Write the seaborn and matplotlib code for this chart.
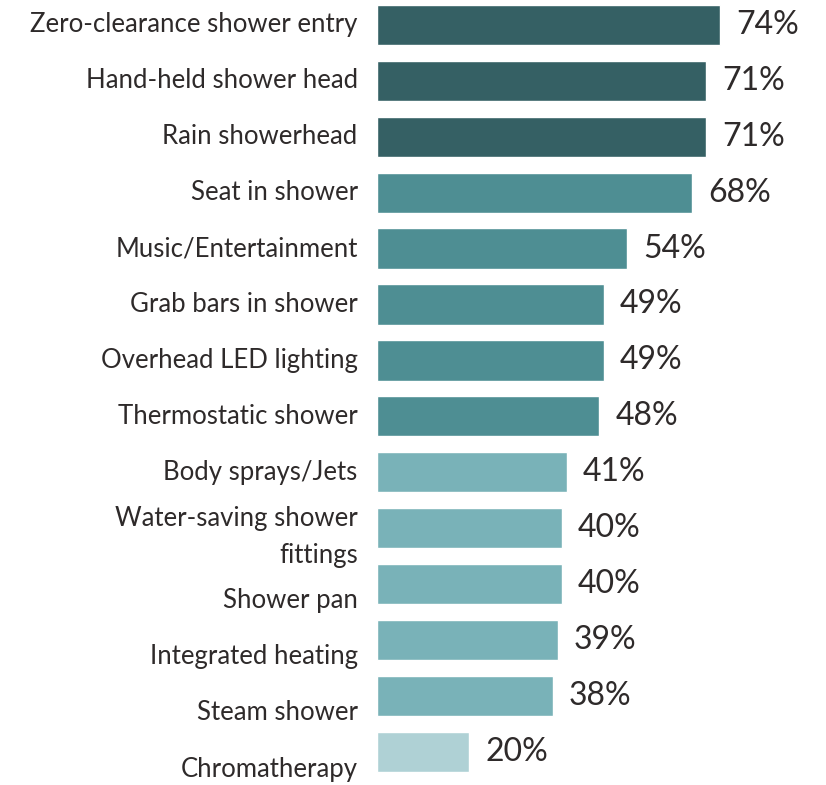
import matplotlib
matplotlib.use("Agg")
import matplotlib.pyplot as plt
import matplotlib.transforms as mtransforms
import seaborn as sns
import pandas as pd

features = ["Zero-clearance shower entry", "Hand-held shower head", "Rain showerhead",
            "Seat in shower", "Music/Entertainment", "Grab bars in shower",
            "Overhead LED lighting", "Thermostatic shower", "Body sprays/Jets",
            "Water-saving shower\nfittings", "Shower pan", "Integrated heating",
            "Steam shower", "Chromatherapy"]
pct = [74, 71, 71, 68, 54, 49, 49, 48, 41, 40, 40, 39, 38, 20]
tier = ["top", "top", "top", "mid", "mid", "mid", "mid", "mid",
        "low", "low", "low", "low", "low", "least"]

tier_colors = {"top": "#356064", "mid": "#4e8e93", "low": "#79b2b8", "least": "#afd1d5"}
# the original labels drift down after the wrapped one
label_shift_px = [0, 0, 0, 0, 0, 0, 0, 0, 0, 9, 17, 17, 17, 18]

df = pd.DataFrame({"feature": features, "pct": pct, "tier": tier})

sns.set_theme(style="white")
plt.rcParams["font.family"] = ["Lato", "DejaVu Sans"]
text_color = "#2e2a2a"

fig = plt.figure(figsize=(8.26, 7.85), dpi=100)
ax = fig.add_axes([0.456, 0, 0.544, 1])

sns.barplot(data=df, x="pct", y="feature", hue="tier", palette=tier_colors,
            dodge=False, legend=False, width=0.72, ax=ax, saturation=1)

ax.set_xlim(0, 96.9)
ax.set_ylim(13.596, -0.447)
ax.set_xlabel("")
ax.set_ylabel("")
ax.set_xticks([])
ax.set_yticks([])
sns.despine(ax=ax, left=True, bottom=True)

for i, (name, v) in enumerate(zip(features, pct)):
    ax.annotate(f"{v}%", xy=(v, i), xytext=(11.5, 0), textcoords="offset points",
                va="center", ha="left", fontsize=23, color=text_color)
    tr = mtransforms.offset_copy(ax.get_yaxis_transform(), fig=fig,
                                 x=-19, y=-label_shift_px[i], units="dots")
    ax.text(0, i, name, transform=tr, ha="right", va="center", fontsize=18.5,
            color=text_color, linespacing=1.6, multialignment="right")

fig.savefig("out.png", dpi=100)
